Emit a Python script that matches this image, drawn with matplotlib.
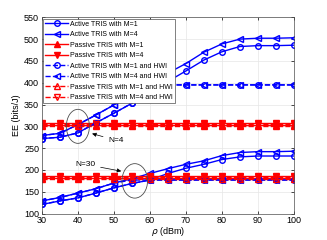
import matplotlib.pyplot as plt
import numpy as np
from matplotlib.patches import Ellipse

plt.rcParams['font.family'] = ['Liberation Sans', 'DejaVu Sans']

rho = [30, 35, 40, 45, 50, 55, 60, 65, 70, 75, 80, 85, 90, 95, 100]

# N=4 group
act_m1_n4 = [272, 275, 285, 308, 330, 353, 378, 403, 427, 452, 471, 483, 485, 485, 486]
act_m4_n4 = [279, 284, 304, 326, 349, 373, 398, 422, 444, 470, 489, 500, 502, 502, 503]
hwi_m1_n4 = [272, 275, 285, 308, 330, 353, 378, 395, 395, 395, 395, 395, 395, 395, 395]
hwi_m4_n4 = [279, 284, 304, 326, 349, 373, 395, 395, 395, 395, 395, 395, 395, 395, 395]
pas_m1_n4 = [302] * 15
pas_m4_n4 = [307] * 15
pas_hwi_m1_n4 = [301] * 15
pas_hwi_m4_n4 = [306] * 15

# N=30 group
act_m1_n30 = [121, 129, 136, 147, 159, 169, 177, 192, 204, 213, 224, 230, 232, 232, 232]
act_m4_n30 = [129, 137, 147, 157, 170, 180, 192, 203, 213, 221, 233, 240, 242, 242, 243]
hwi_m1_n30 = [121, 129, 136, 147, 159, 169, 177, 177, 177, 177, 177, 177, 177, 177, 177]
hwi_m4_n30 = [129, 137, 147, 157, 170, 177, 177, 177, 177, 177, 177, 177, 177, 177, 177]
pas_m1_n30 = [181] * 15
pas_m4_n30 = [186] * 15
pas_hwi_m1_n30 = [180] * 15
pas_hwi_m4_n30 = [185] * 15

labels = ['Active TRIS with M=1', 'Active TRIS with M=4',
          'Passive TRIS with M=1', 'Passive TRIS with M=4',
          'Active TRIS with M=1 and HWI', 'Active TRIS with M=4 and HWI',
          'Passive TRIS with M=1 and HWI', 'Passive TRIS with M=4 and HWI']

fig = plt.figure(figsize=(3.27, 2.4), dpi=100)
ax = fig.add_axes([0.128, 0.110, 0.771, 0.818])

lw = 1.0
ms = 4
styles = [
    dict(color='b', ls='-', marker='o', mfc='none'),
    dict(color='b', ls='-', marker='<', mfc='none'),
    dict(color='r', ls='-', marker='^', mfc='r'),
    dict(color='r', ls='-', marker='v', mfc='r'),
    dict(color='b', ls='--', marker='o', mfc='none'),
    dict(color='b', ls='--', marker='<', mfc='none'),
    dict(color='r', ls='--', marker='^', mfc='none'),
    dict(color='r', ls='--', marker='v', mfc='none'),
]
groups = [
    [act_m1_n4, act_m4_n4, pas_m1_n4, pas_m4_n4, hwi_m1_n4, hwi_m4_n4, pas_hwi_m1_n4, pas_hwi_m4_n4],
    [act_m1_n30, act_m4_n30, pas_m1_n30, pas_m4_n30, hwi_m1_n30, hwi_m4_n30, pas_hwi_m1_n30, pas_hwi_m4_n30],
]
handles = []
for gi, g in enumerate(groups):
    for si, ys in enumerate(g):
        st = styles[si]
        h, = ax.plot(rho, ys, lw=lw, ms=ms, mew=1.0, **st)
        if gi == 0:
            handles.append(h)

ax.add_patch(Ellipse((40, 300), 6.4, 78, fill=False, ec='0.3', lw=0.6, zorder=5))
ax.add_patch(Ellipse((55.8, 175), 7.1, 79, fill=False, ec='0.3', lw=0.6, zorder=5))
ax.annotate('N=4', xy=(43.2, 285), xytext=(48.5, 268), fontsize=6, va='center',
            arrowprops=dict(arrowstyle='-|>', color='k', lw=0.5, mutation_scale=6))
ax.annotate('N=30', xy=(52.8, 196), xytext=(42, 213), fontsize=6, va='center', ha='center',
            arrowprops=dict(arrowstyle='-|>', color='k', lw=0.5, mutation_scale=6))

ax.set_xlim(30, 100)
ax.set_ylim(100, 550)
ax.set_xticks(np.arange(30, 101, 10))
ax.set_yticks(np.arange(100, 551, 50))
ax.tick_params(labelsize=6.5, direction='in', length=2, top=True, right=True, width=0.5, pad=2)
ax.grid(True, color='0.9', lw=0.5)
for s in ax.spines.values():
    s.set_linewidth(0.5)
    s.set_color('0.3')
ax.set_xlabel(r'$\rho$ (dBm)', fontsize=6.5, labelpad=0)
ax.set_ylabel('EE (bits/J)', fontsize=6.5, labelpad=2)

leg = ax.legend(handles, labels, loc='upper left', fontsize=5.0, handlelength=3.3,
                labelspacing=0.5, borderaxespad=0.2, handletextpad=0.3,
                fancybox=False, framealpha=1, edgecolor='0.3', borderpad=0.3)
leg.get_frame().set_linewidth(0.5)

fig.savefig('out.png', dpi=100)
